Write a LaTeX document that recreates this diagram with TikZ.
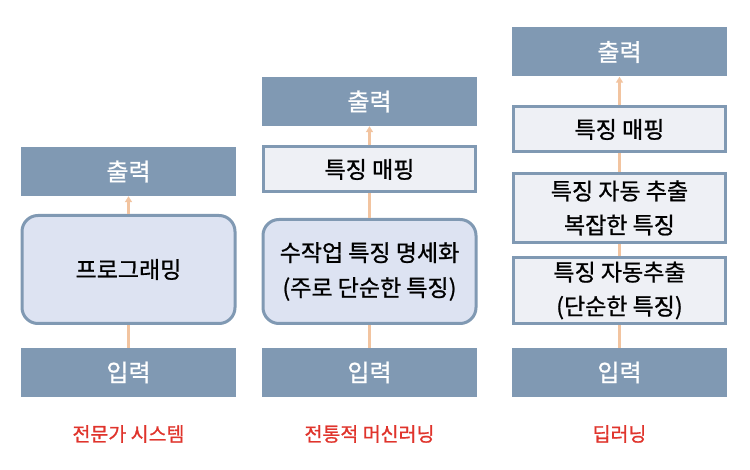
\documentclass[tikz,border=0pt]{standalone}
\usepackage{fontspec}
\setmainfont[AutoFakeBold=0.9]{Noto Sans CJK KR}
\usetikzlibrary{arrows.meta}
\definecolor{darkbox}{HTML}{8099B3}
\definecolor{lightfill}{HTML}{EEF0F5}
\definecolor{roundfill}{HTML}{DDE3F2}
\definecolor{linkc}{HTML}{F2C4A0}
\definecolor{labred}{HTML}{E0342C}
\tikzset{
  dbox/.style={fill=darkbox, draw=none, text=white, font=\bfseries\fontsize{24}{28}\selectfont, minimum width=215pt, minimum height=49pt, inner sep=0pt},
  lbox/.style={fill=lightfill, draw=darkbox, line width=3pt, font=\bfseries\fontsize{23}{34}\selectfont, minimum width=212pt, inner sep=0pt, align=center},
  rbox/.style={fill=roundfill, draw=darkbox, line width=3pt, rounded corners=16pt, font=\bfseries\fontsize{23}{35}\selectfont, minimum width=213pt, inner sep=0pt, align=center},
  link/.style={draw=linkc, line width=2.5pt},
  arr/.style={link, -{Triangle[length=6pt,width=7pt]}},
  lab/.style={text=labred, font=\bfseries\fontsize{19.5}{23}\selectfont}
}
\begin{document}
\begin{tikzpicture}[x=1pt,y=-1pt]
\useasboundingbox[fill=white] (0,0) rectangle (750,470);
% column 1
\node[dbox] (o1) at (128.5,171.5) {출력};
\node[rbox, minimum height=108pt] (p1) at (128.5,269.5) {프로그래밍};
\node[dbox] (i1) at (128.5,372.5) {입력};
\node[lab] (l1) at (128.5,434) {전문가 시스템};
\draw[link] (i1) -- (p1);
\draw[arr] (p1) -- (o1);
% column 2
\node[dbox] (o2) at (369.5,101.5) {출력};
\node[lbox, minimum height=45pt] (m2) at (369.5,169.5) {특징 매핑};
\node[rbox, minimum height=104pt] (h2) at (369.5,271.5) {수작업 특징 명세화\\(주로 단순한 특징)};
\node[dbox] (i2) at (369.5,372.5) {입력};
\node[lab] (l2) at (369.5,434) {전통적 머신러닝};
\draw[link] (i2) -- (h2);
\draw[link] (h2) -- (m2);
\draw[arr] (m2) -- (o2);
% column 3
\node[dbox] (o3) at (619.5,52) {출력};
\node[lbox, minimum height=45pt] (m3) at (619.5,129.5) {특징 매핑};
\node[lbox, minimum height=69pt] (c3) at (619.5,208) {특징 자동 추출\\복잡한 특징};
\node[lbox, minimum height=66pt] (s3) at (619.5,290.5) {특징 자동추출\\(단순한 특징)};
\node[dbox] (i3) at (619.5,372.5) {입력};
\node[lab] (l3) at (619.5,434) {딥러닝};
\draw[link] (i3) -- (s3);
\draw[link] (s3) -- (c3);
\draw[link] (c3) -- (m3);
\draw[arr] (m3) -- (o3);
\end{tikzpicture}
\end{document}
